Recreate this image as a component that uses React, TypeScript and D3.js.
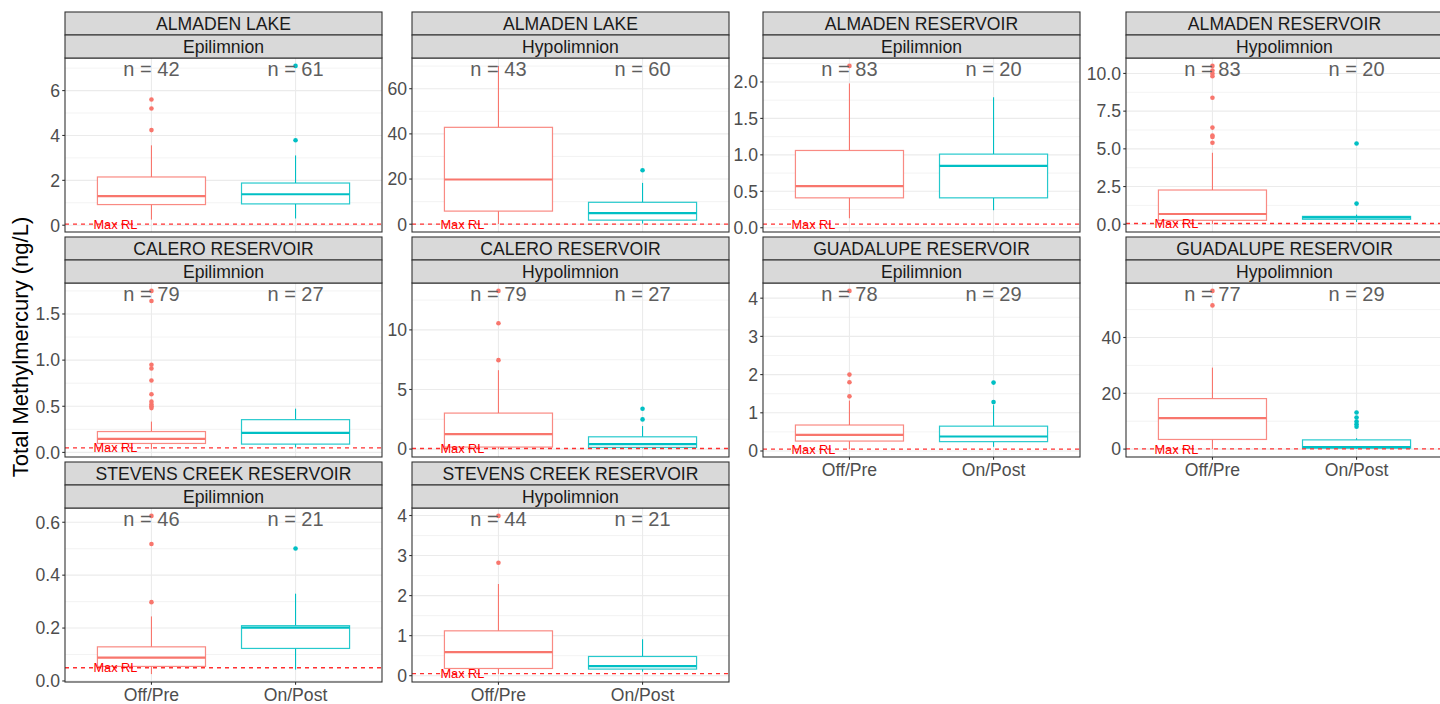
import React from "react";
import * as d3 from "d3";

// ---------- data ----------
const lakes = [
  "ALMADEN LAKE", "ALMADEN LAKE",
  "ALMADEN RESERVOIR", "ALMADEN RESERVOIR",
  "CALERO RESERVOIR", "CALERO RESERVOIR",
  "GUADALUPE RESERVOIR", "GUADALUPE RESERVOIR",
  "STEVENS CREEK RESERVOIR", "STEVENS CREEK RESERVOIR",
];
const layers = [
  "Epilimnion", "Hypolimnion", "Epilimnion", "Hypolimnion", "Epilimnion",
  "Hypolimnion", "Epilimnion", "Hypolimnion", "Epilimnion", "Hypolimnion",
];
const groups = ["Off/Pre", "On/Post"];
const nOffPre = [42, 43, 83, 83, 79, 79, 78, 77, 46, 44];
const nOnPost = [61, 60, 20, 20, 27, 27, 29, 29, 21, 21];

// [lower whisker, Q1, median, Q3, upper whisker]
const offPreBox = [
  [0.25, 0.92, 1.3, 2.15, 3.56],
  [0.1, 5.8, 19.8, 42.9, 70.1],
  [0.13, 0.41, 0.57, 1.06, 1.98],
  [0.01, 0.26, 0.68, 2.27, 4.74],
  [0.036, 0.097, 0.147, 0.226, 0.334],
  [0.0, 0.17, 1.26, 3.02, 6.62],
  [0.05, 0.26, 0.42, 0.68, 1.32],
  [0.0, 3.45, 11.1, 18.1, 29.2],
  [0.026, 0.055, 0.088, 0.129, 0.244],
  [0.04, 0.18, 0.59, 1.12, 2.29],
];
const onPostBox = [
  [0.3, 0.95, 1.38, 1.88, 3.11],
  [0.3, 1.8, 4.9, 9.7, 18.3],
  [0.24, 0.41, 0.85, 1.01, 1.79],
  [0.15, 0.33, 0.45, 0.52, 0.64],
  [0.054, 0.09, 0.212, 0.355, 0.474],
  [0.06, 0.14, 0.42, 1.03, 1.93],
  [0.11, 0.245, 0.38, 0.65, 1.2],
  [0.1, 0.35, 0.7, 3.3, 3.9],
  [0.043, 0.123, 0.202, 0.209, 0.33],
  [0.1, 0.165, 0.24, 0.48, 0.91],
];
const offPreOutliers = [
  [5.6, 5.2, 4.24],
  [],
  [2.22],
  [10.5, 10.2, 10.0, 9.82, 8.39, 6.41, 5.88, 5.79, 5.4],
  [1.75, 1.64, 0.95, 0.91, 0.78, 0.63, 0.55, 0.52, 0.5, 0.48],
  [13.27, 10.56, 7.46],
  [4.19, 2.0, 1.8, 1.43],
  [56.7, 51.5],
  [0.624, 0.518, 0.298],
  [3.99, 2.82],
];
const onPostOutliers = [
  [7.1, 3.79],
  [23.9],
  [],
  [5.35, 1.37],
  [],
  [3.38, 2.49],
  [1.79, 1.28],
  [13.1, 11.3, 9.9, 8.9, 8.0],
  [0.501],
  [],
];
const yTicks = [
  [0, 2, 4, 6],
  [0, 20, 40, 60],
  [0, 0.5, 1, 1.5, 2],
  [0, 2.5, 5, 7.5, 10],
  [0, 0.5, 1, 1.5],
  [0, 5, 10],
  [0, 1, 2, 3, 4],
  [0, 20, 40],
  [0, 0.2, 0.4, 0.6],
  [0, 1, 2, 3, 4],
];
const yTickLabels = [
  ["0", "2", "4", "6"],
  ["0", "20", "40", "60"],
  ["0.0", "0.5", "1.0", "1.5", "2.0"],
  ["0.0", "2.5", "5.0", "7.5", "10.0"],
  ["0.0", "0.5", "1.0", "1.5"],
  ["0", "5", "10"],
  ["0", "1", "2", "3", "4"],
  ["0", "20", "40"],
  ["0.0", "0.2", "0.4", "0.6"],
  ["0", "1", "2", "3", "4"],
];
const maxRL = 0.05;
const maxRLLabel = "Max RL";
const yTitle = "Total Methylmercury (ng/L)";

// ---------- layout ----------
const W = 1440;
const H = 704;
const colX = [65, 412, 763, 1126];
const rowY = [12, 237, 462];
const panelW = 317;
const stripH = 23;
const plotH = 174;
const groupColors = ["#F8766D", "#00BFC4"];
const FONT = "'Liberation Sans', Arial, Helvetica, sans-serif";

function Panel({ i }: { i: number }) {
  const row = Math.floor(i / 4);
  const col = i % 4;
  const x0 = colX[col];
  const top = rowY[row];
  const py0 = top + 2 * stripH;
  const py1 = py0 + plotH;

  const boxes = [offPreBox[i], onPostBox[i]];
  const outs = [offPreOutliers[i], onPostOutliers[i]];
  const allVals = [...boxes[0], ...boxes[1], ...outs[0], ...outs[1], maxRL];
  const [mn, mx] = d3.extent(allVals) as [number, number];
  const pad = (mx - mn) * 0.05;
  const y = d3.scaleLinear().domain([mn - pad, mx + pad]).range([py1, py0]);
  const x = d3.scalePoint<string>().domain(groups).range([x0, x0 + panelW]).padding(0.6);
  const step = x.step();
  const bw = step * 0.75;

  const ticks = yTicks[i];
  const tstep = ticks[1] - ticks[0];
  const minors: number[] = [];
  for (let k = -1; k < ticks.length; k++) {
    const v = ticks[0] + (k + 0.5) * tstep;
    if (v >= y.domain()[0] && v <= y.domain()[1]) minors.push(v);
  }
  const showX = i >= 6;
  const ns = [nOffPre[i], nOnPost[i]];
  const xRL = x0 + (0.75 - 0.4) * step;

  return (
    <g>
      {/* panel background and grid */}
      <rect x={x0} y={py0} width={panelW} height={plotH} fill="#fff" />
      {minors.map((v, k) => (
        <line key={"mi" + k} x1={x0} x2={x0 + panelW} y1={y(v)} y2={y(v)} stroke="#EBEBEB" strokeWidth={0.6} />
      ))}
      {ticks.map((v, k) => (
        <line key={"ma" + k} x1={x0} x2={x0 + panelW} y1={y(v)} y2={y(v)} stroke="#EBEBEB" strokeWidth={1.1} />
      ))}
      {groups.map((g) => (
        <line key={"vg" + g} x1={x(g)} x2={x(g)} y1={py0} y2={py1} stroke="#EBEBEB" strokeWidth={1.1} />
      ))}

      {/* boxplots */}
      {groups.map((g, gi) => {
        const [lo, q1, med, q3, hi] = boxes[gi];
        const cx = x(g) as number;
        const c = groupColors[gi];
        return (
          <g key={"b" + g}>
            <line x1={cx} x2={cx} y1={y(q3)} y2={y(hi)} stroke={c} strokeWidth={1.1} />
            <line x1={cx} x2={cx} y1={y(q1)} y2={y(lo)} stroke={c} strokeWidth={1.1} />
            <rect x={cx - bw / 2} y={y(q3)} width={bw} height={Math.max(0.5, y(q1) - y(q3))} fill="#fff" stroke={c} strokeOpacity={0.85} strokeWidth={1.2} />
            <line x1={cx - bw / 2} x2={cx + bw / 2} y1={y(med)} y2={y(med)} stroke={c} strokeWidth={2.2} />
            {outs[gi].map((v, k) => (
              <circle key={k} cx={cx} cy={y(v)} r={2.3} fill={c} />
            ))}
          </g>
        );
      })}

      {/* Max RL line */}
      <line x1={x0} x2={x0 + panelW} y1={y(maxRL)} y2={y(maxRL)} stroke="#FF3030" strokeWidth={1.3} strokeDasharray="4,4" />
      <text x={xRL} y={y(maxRL)} dy="0.36em" textAnchor="middle" fontSize={12.8} fill="#FF0000" fontFamily={FONT}>
        {maxRLLabel}
      </text>

      {/* n labels */}
      {groups.map((g, gi) => (
        <text key={"n" + g} x={x(g)} y={py0 + 11} dy="0.36em" textAnchor="middle" fontSize={20} fill="#5E5E5E" fontFamily={FONT}>
          {`n = ${ns[gi]}`}
        </text>
      ))}

      {/* panel border */}
      <rect x={x0} y={py0} width={panelW} height={plotH} fill="none" stroke="#333333" strokeWidth={1.1} />

      {/* strips */}
      <rect x={x0} y={top} width={panelW} height={stripH} fill="#D9D9D9" stroke="#333333" strokeWidth={1.1} />
      <rect x={x0} y={top + stripH} width={panelW} height={stripH} fill="#D9D9D9" stroke="#333333" strokeWidth={1.1} />
      <text x={x0 + panelW / 2} y={top + stripH / 2} dy="0.36em" textAnchor="middle" fontSize={17.6} fill="#1A1A1A" fontFamily={FONT}>
        {lakes[i]}
      </text>
      <text x={x0 + panelW / 2} y={top + stripH * 1.5} dy="0.36em" textAnchor="middle" fontSize={17.6} fill="#1A1A1A" fontFamily={FONT}>
        {layers[i]}
      </text>

      {/* y axis */}
      {ticks.map((v, k) => (
        <g key={"yt" + k}>
          <line x1={x0 - 2.75} x2={x0} y1={y(v)} y2={y(v)} stroke="#333333" strokeWidth={1.1} />
          <text x={x0 - 5} y={y(v)} dy="0.36em" textAnchor="end" fontSize={17.6} fill="#4D4D4D" fontFamily={FONT}>
            {yTickLabels[i][k]}
          </text>
        </g>
      ))}

      {/* x axis */}
      {showX &&
        groups.map((g) => (
          <g key={"xt" + g}>
            <line x1={x(g)} x2={x(g)} y1={py1} y2={py1 + 2.75} stroke="#333333" strokeWidth={1.1} />
            <text x={x(g)} y={py1 + 18.5} textAnchor="middle" fontSize={17.6} fill="#4D4D4D" fontFamily={FONT}>
              {g}
            </text>
          </g>
        ))}
    </g>
  );
}

export default function App() {
  return (
    <svg
      width={W}
      height={H}
      viewBox={`0 0 ${W} ${H}`}
      style={{ position: "absolute", left: 0, top: 0, background: "#fff" }}
    >
      <rect x={0} y={0} width={W} height={H} fill="#fff" />
      {lakes.map((_, i) => (
        <Panel key={i} i={i} />
      ))}
      <text
        transform={`translate(20,${(rowY[0] + rowY[2] + 2 * stripH + plotH) / 2}) rotate(-90)`}
        dy="0.36em"
        textAnchor="middle"
        fontSize={22}
        fill="#000"
        fontFamily={FONT}
      >
        {yTitle}
      </text>
    </svg>
  );
}
